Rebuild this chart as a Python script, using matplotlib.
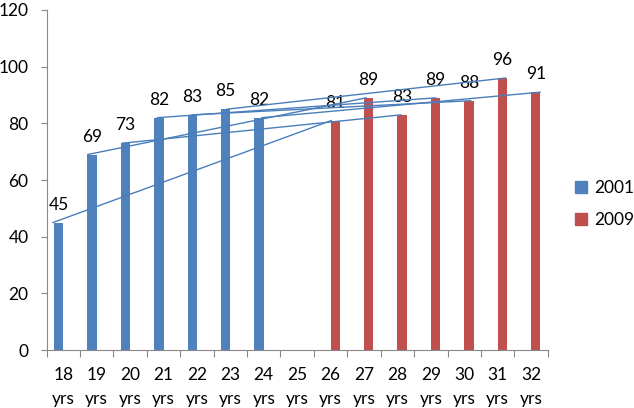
import matplotlib.pyplot as plt
import numpy as np

plt.rcParams['font.family'] = ['Lato', 'DejaVu Sans']

ages = [18, 19, 20, 21, 22, 23, 24, 25, 26, 27, 28, 29, 30, 31, 32]
labels = [f"{a}\nyrs" for a in ages]
vals_2001 = [45, 69, 73, 82, 83, 85, 82, None, None, None, None, None, None, None, None]
vals_2009 = [None, None, None, None, None, None, None, None, 81, 89, 83, 89, 88, 96, 91]

blue = '#4F81BD'
red = '#C0504D'

fig = plt.figure(figsize=(6.34, 4.08), dpi=100)
ax = fig.add_axes([0.0735, 0.142, 0.7905, 0.8335])

x = np.arange(len(ages))
w = 0.28

for i, v in enumerate(vals_2001):
    if v is None:
        continue
    ax.bar(x[i] - 0.14, v, width=w, color=blue, zorder=2)
    ax.annotate(str(v), (x[i] - 0.14, v), xytext=(0, 7), textcoords='offset points',
                ha='center', va='bottom', fontsize=12.5)
for i, v in enumerate(vals_2009):
    if v is None:
        continue
    ax.bar(x[i] + 0.14, v, width=w, color=red, zorder=2)
    ax.annotate(str(v), (x[i] + 0.14, v), xytext=(0, 7), textcoords='offset points',
                ha='center', va='bottom', fontsize=12.5)

# cohort lines: 2001 age -> same people 8 years later
line_x = np.linspace(-0.31, 14.27, len(ages))
for i in range(7):
    j = i + 8
    ax.plot([line_x[i], line_x[j]], [vals_2001[i], vals_2009[j]],
            color='#4A7EBB', lw=1, zorder=3)

ax.set_xlim(-0.5, 14.5)
ax.set_ylim(0, 120)
ax.set_yticks(range(0, 121, 20))
ax.set_xticks(np.arange(-0.5, 15, 1))
ax.set_xticklabels([])
ax.set_xticks(x, minor=True)
ax.set_xticklabels(labels, minor=True, fontsize=12.5, linespacing=1.6)
ax.tick_params(axis='x', which='minor', length=0, pad=12)
ax.tick_params(axis='x', which='major', length=5, color='#888888')
ax.tick_params(axis='y', length=4, color='#888888', labelsize=12.5, pad=9)

for s in ['top', 'right']:
    ax.spines[s].set_visible(False)
for s in ['left', 'bottom']:
    ax.spines[s].set_color('#888888')

h1 = plt.Rectangle((0, 0), 1, 1, color=blue)
h2 = plt.Rectangle((0, 0), 1, 1, color=red)
fig.legend([h1, h2], ['2001', '2009'], loc='center left', bbox_to_anchor=(0.907, 0.50),
           frameon=False, fontsize=12.5, handlelength=0.7, handleheight=0.7,
           handletextpad=0.4, labelspacing=0.9, borderpad=0, borderaxespad=0)

fig.savefig('out.png', dpi=100)
